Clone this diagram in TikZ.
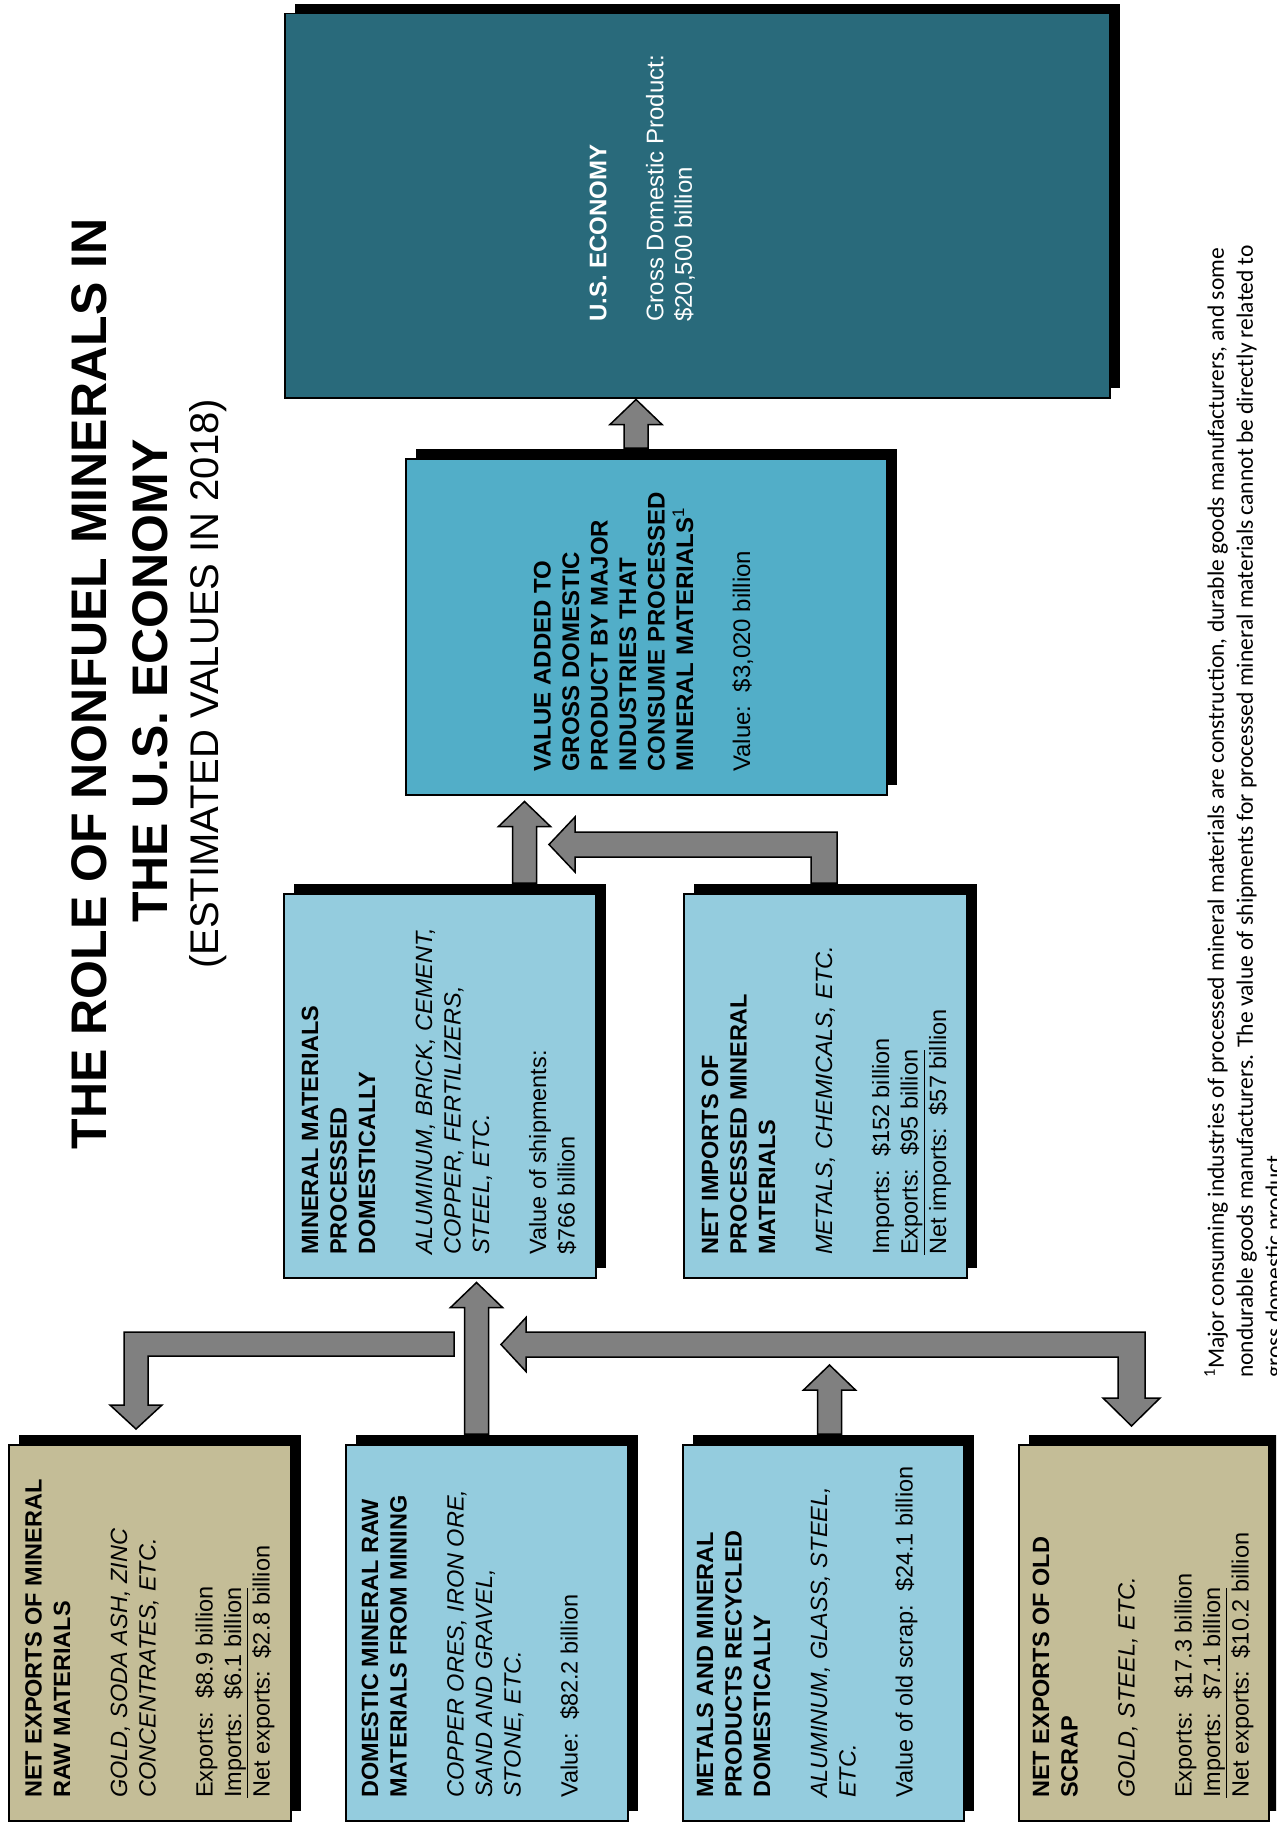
\documentclass[tikz,border=0pt]{standalone}
\usepackage{fontspec}
\setmainfont{Liberation Sans}
\newfontfamily\fnfont{Carlito}
\usetikzlibrary{calc,shadows}
\definecolor{usdark}{HTML}{296A7B}
\definecolor{valblue}{HTML}{52AEC8}
\definecolor{ltblue}{HTML}{94CCDE}
\definecolor{tanbox}{HTML}{C4BD97}
\definecolor{arrgray}{HTML}{808080}
\newcommand\B{\bfseries}
\newcommand\I{\itshape}
\newcommand\blkup[3]{%
  \draw[blk] let \p1=(#1), \p2=(#2) in
   (\x1-12pt,\y1+10pt) -- (\x1-12pt,\y2-#3pt-25pt) -- (\x1-26pt,\y2-#3pt-25pt) --
   (\x1,\y2-#3pt) -- (\x1+26pt,\y2-#3pt-25pt) -- (\x1+12pt,\y2-#3pt-25pt) --
   (\x1+12pt,\y1+10pt) -- cycle;}
\begin{document}
\begin{tikzpicture}[x=1pt,y=-1pt,
  box/.style={draw=black, line width=1.5pt, inner sep=0pt, anchor=north west,
    drop shadow={shadow xshift=10pt, shadow yshift=10pt, opacity=1, fill=black}},
  blk/.style={fill=arrgray, draw=black, line width=1.5pt, line join=miter},
  txt/.style={rotate=90, anchor=north west, inner sep=0pt, align=left,
    font=\fontsize{23.5}{28.5}\selectfont},
]
\useasboundingbox (0,0) rectangle (1276,1835);
\clip (0,0) rectangle (1276,1835);
\fill[white] (0,0) rectangle (1276,1835);

% title
\node[rotate=90, inner sep=0pt, font=\fontsize{50}{60}\selectfont\bfseries] (t1) at (89,684) {THE ROLE OF NONFUEL MINERALS IN};
\node[rotate=90, inner sep=0pt, font=\fontsize{50}{60}\selectfont\bfseries] (t2) at (150,681) {THE U.S. ECONOMY};
\node[rotate=90, inner sep=0pt, font=\fontsize{40}{48}\selectfont] (t3) at (208,684) {(ESTIMATED VALUES IN 2018)};

% boxes
\node[box, fill=usdark, minimum width=825pt, minimum height=384pt] (us) at (284,13) {};
\node[box, fill=valblue, minimum width=481pt, minimum height=336pt] (val) at (405,458) {};
\node[box, fill=ltblue, minimum width=312pt, minimum height=384pt] (proc) at (283,893) {};
\node[box, fill=ltblue, minimum width=283pt, minimum height=384pt] (imp) at (683,893) {};
\node[box, fill=tanbox, minimum width=282pt, minimum height=376pt] (rawx) at (8,1444) {};
\node[box, fill=ltblue, minimum width=282pt, minimum height=376pt] (dom) at (345,1444) {};
\node[box, fill=ltblue, minimum width=281pt, minimum height=376pt] (met) at (682,1444) {};
\node[box, fill=tanbox, minimum width=250pt, minimum height=376pt] (scr) at (1018,1444) {};

% arrows
\coordinate (c1) at (636,0);
\blkup{c1 |- val.north}{c1 |- us.south}{1}
\coordinate (c2) at (524.5,0);
\blkup{c2 |- proc.north}{c2 |- val.south}{6}
\coordinate (c4) at (476.5,0);
\blkup{c4 |- dom.north}{c4 |- proc.south}{4}
\coordinate (c7) at (829.5,1357);
\blkup{c7 |- met.north}{c7}{8}
\draw[blk] (811,883) -- (811,857) -- (575,857) -- (575,872) -- (549,844.5) -- (575,817) -- (575,832) -- (837,832) -- (837,883) -- cycle;
\draw[blk] (454,1332) -- (124,1332) -- (124,1405) -- (110,1405) -- (136,1429) -- (162,1405) -- (148,1405) -- (148,1356) -- (454,1356) -- cycle;
\draw[blk] (501,1344.5) -- (526,1317.5) -- (526,1332) -- (1145,1332) -- (1145,1398) -- (1160,1398) -- (1131.5,1426) -- (1103,1398) -- (1118,1398) -- (1118,1357) -- (526,1357) -- (526,1371.5) -- cycle;

% texts
\node[txt, text=white, font=\fontsize{24}{28.5}\selectfont] (ust) at (589.5,322)
  {\B U.S. ECONOMY\\[28.5pt] Gross Domestic Product:\\ \$20,500 billion};
\node[txt, font=\fontsize{24}{28.5}\selectfont] (valt) at (533.6,772)
  {\B VALUE ADDED TO\\ \B GROSS DOMESTIC\\ \B PRODUCT BY MAJOR\\ \B INDUSTRIES THAT\\ \B CONSUME PROCESSED\\ \B MINERAL MATERIALS\textsuperscript{\mdseries 1}\\[28.5pt] Value:\ \ \$3,020 billion};
\node[txt] (proct) at (301.5,1255)
  {\B MINERAL MATERIALS\\ \B PROCESSED\\ \B DOMESTICALLY\\[28.5pt] \I ALUMINUM, BRICK, CEMENT,\\ \I COPPER, FERTILIZERS,\\ \I STEEL, ETC.\\[28.5pt] Value of shipments:\\ \$766 billion};
\node[txt] (impt) at (701.5,1255)
  {\B NET IMPORTS OF\\ \B PROCESSED MINERAL\\ \B MATERIALS\\[28.5pt] \I METALS, CHEMICALS, ETC.\\[28.5pt] Imports:\ \ \$152 billion\\ \underline{Exports:\ \ \$95 billion}\\ Net imports:\ \ \$57 billion};
\node[txt] (rawt) at (25,1798)
  {\B NET EXPORTS OF MINERAL\\ \B RAW MATERIALS\\[28.5pt] \I GOLD, SODA ASH, ZINC\\ \I CONCENTRATES, ETC.\\[28.5pt] Exports:\ \ \$8.9 billion\\ \underline{Imports:\ \ \$6.1 billion}\\ Net exports:\ \ \$2.8 billion};
\node[txt] (domt) at (361.5,1798)
  {\B DOMESTIC MINERAL RAW\\ \B MATERIALS FROM MINING\\[28.5pt] \I COPPER ORES, IRON ORE,\\ \I SAND AND GRAVEL,\\ \I STONE, ETC.\\[28.5pt] Value:\ \ \$82.2 billion};
\node[txt] (mett) at (696.5,1798)
  {\B METALS AND MINERAL\\ \B PRODUCTS RECYCLED\\ \B DOMESTICALLY\\[28.5pt] \I ALUMINUM, GLASS, STEEL,\\ \I ETC.\\[28.5pt] Value of old scrap:\ \ \$24.1 billion};
\node[txt] (scrt) at (1032.5,1798)
  {\B NET EXPORTS OF OLD\\ \B SCRAP\\[28.5pt] \I GOLD, STEEL, ETC.\\[28.5pt] Exports:\ \ \$17.3 billion\\ \underline{Imports:\ \ \$7.1 billion}\\ Net exports:\ \ \$10.2 billion};

% footnote
\node[rotate=90, anchor=north west, inner sep=0pt, align=left, font=\fnfont\fontsize{23.5}{29}\selectfont] (fn) at (1204,1378)
  {\textsuperscript{1}Major consuming industries of processed mineral materials are construction, durable goods manufacturers, and some\\ nondurable goods manufacturers. The value of shipments for processed mineral materials cannot be directly related to\\ gross domestic product.};
\end{tikzpicture}
\end{document}
